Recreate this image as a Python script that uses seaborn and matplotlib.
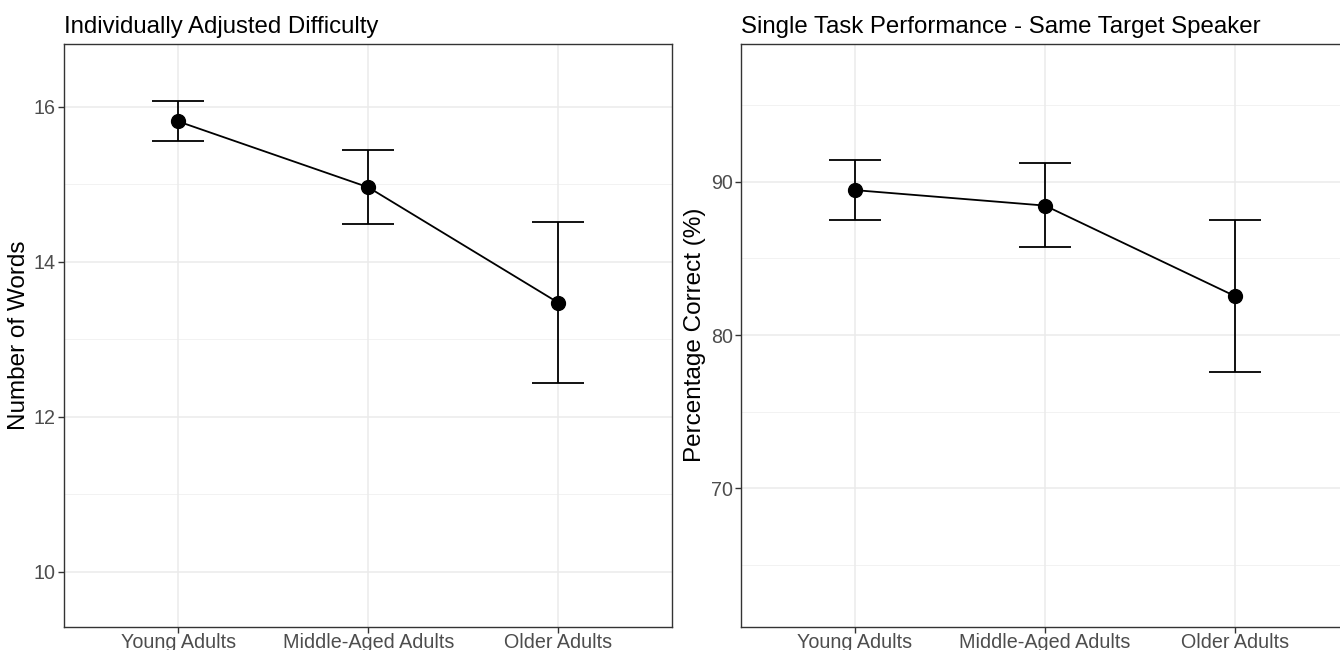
import seaborn as sns
import matplotlib.pyplot as plt
import pandas as pd
import numpy as np

groups = ["Young Adults", "Middle-Aged Adults", "Older Adults"]

# left panel: number of words (mean, lower, upper)
words_mean = [15.81, 14.96, 13.47]
words_low = [15.56, 14.48, 12.44]
words_high = [16.07, 15.445, 14.51]

# right panel: percentage correct
pct_mean = [89.46, 88.45, 82.54]
pct_low = [87.52, 85.72, 77.6]
pct_high = [91.43, 91.2, 87.48]

sns.set_theme(style="white")
plt.rcParams['font.family'] = ['Liberation Sans', 'DejaVu Sans']

fig = plt.figure(figsize=(13.4, 6.5), dpi=100)
W, H = 1340, 650
ax1 = fig.add_axes([64.3 / W, (H - 626.5) / H, 608 / W, 582.5 / H])
ax2 = fig.add_axes([741 / W, (H - 626.5) / H, 608 / W, 582.5 / H])


def draw_panel(ax, mean, low, high, ylim, major, minor, title, ylabel):
    df = pd.DataFrame({"group": groups, "value": mean})
    for m in major:
        ax.axhline(m, color="#EBEBEB", lw=1.1, zorder=0)
    for m in minor:
        ax.axhline(m, color="#F2F2F2", lw=0.7, zorder=0)
    for i in range(len(groups)):
        ax.axvline(i, color="#EBEBEB", lw=1.1, zorder=0)
    mean = np.array(mean)
    yerr = [mean - np.array(low), np.array(high) - mean]
    ax.errorbar(range(len(groups)), mean, yerr=yerr, fmt="none",
                ecolor="black", elinewidth=1.3, capsize=19, capthick=1.3, zorder=2)
    sns.pointplot(data=df, x="group", y="value", color="black", errorbar=None,
                  markersize=10, linewidth=1.3, ax=ax, zorder=3)
    ax.set_xlim(-0.6, 2.6)
    ax.set_ylim(*ylim)
    ax.set_yticks(major)
    ax.set_xlabel("")
    ax.set_ylabel(ylabel, fontsize=17.5, color="black", labelpad=3)
    ax.set_title(title, loc="left", fontsize=17.3, color="black", pad=8)
    ax.tick_params(axis="both", which="major", length=4, width=1, color="#333333",
                   labelcolor="#4D4D4D", labelsize=14.2, pad=2, direction="out",
                   bottom=True, left=True)
    ax.tick_params(axis="x", pad=1)
    for s in ax.spines.values():
        s.set_color("#333333")
        s.set_linewidth(1)
    ax.set_facecolor("white")


draw_panel(ax1, words_mean, words_low, words_high, (9.29, 16.81),
           [10, 12, 14, 16], [11, 13, 15],
           "Individually Adjusted Difficulty", "Number of Words")
draw_panel(ax2, pct_mean, pct_low, pct_high, (60.97, 99.0),
           [70, 80, 90], [65, 75, 85, 95],
           "Single Task Performance - Same Target Speaker", "Percentage Correct (%)")

fig.savefig("out.png", dpi=100)
